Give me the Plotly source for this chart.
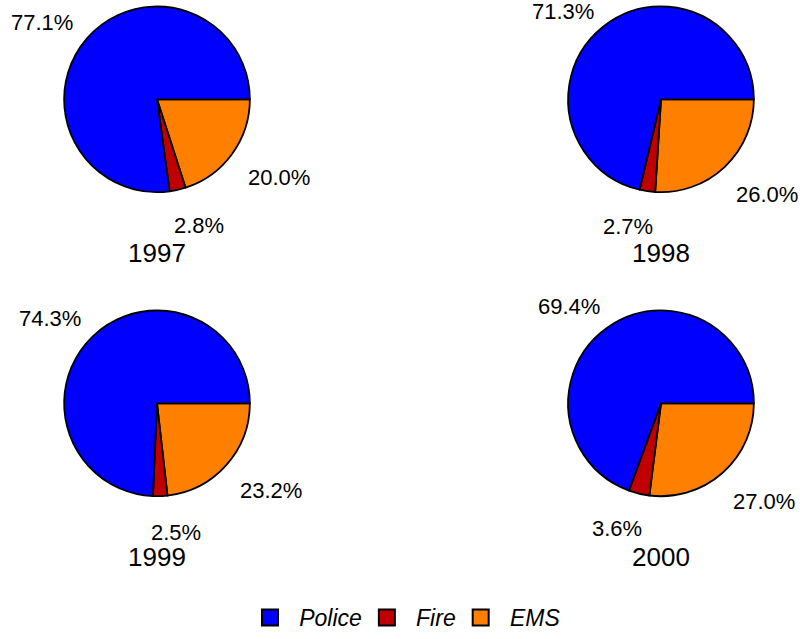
import math
import plotly.graph_objects as go

years = ["1997", "1998", "1999", "2000"]
categories = ["Police", "Fire", "EMS"]
police = [77.1, 71.3, 74.3, 69.4]
fire = [2.8, 2.7, 2.5, 3.6]
ems = [20.0, 26.0, 23.2, 27.0]
colors = ["#0000FF", "#C00000", "#FF8000"]

W, H = 802, 639
centers = [(157, 99.5), (661, 99.5), (157, 404), (661, 404)]
R = 93.0
KX, KY, SX, SY = 125.0, 124.0, 12.5, 5.0
FONT = "Liberation Sans, Arial, sans-serif"

fig = go.Figure()
annotations = []

for i, yr in enumerate(years):
    cx, cy = centers[i]
    vals = [police[i], fire[i], ems[i]]
    # drawn clockwise from 3 o'clock: EMS, Fire, Police
    fig.add_trace(go.Pie(
        labels=categories[::-1],
        values=vals[::-1],
        sort=False,
        direction="clockwise",
        rotation=90,
        marker=dict(colors=colors[::-1], line=dict(color="black", width=1.8)),
        textinfo="none",
        hoverinfo="label+percent",
        showlegend=False,
        domain=dict(x=[(cx - R) / W, (cx + R) / W],
                    y=[1 - (cy + R) / H, 1 - (cy - R) / H]),
    ))
    total = sum(vals)
    start = 0.0
    for v in vals:
        span = 360.0 * v / total
        mid = math.radians(start + span / 2)
        start += span
        c, s = math.cos(mid), math.sin(mid)
        sg = 1 if c > 0 else -1
        px = cx + KX * c - SX * sg
        py = cy - KY * s + SY
        py = max(py, 12)
        annotations.append(dict(
            x=px / W, y=1 - py / H, xref="paper", yref="paper",
            text=f"{v:.1f}%", showarrow=False,
            xanchor="left" if sg > 0 else "right", yanchor="middle",
            font=dict(family=FONT, size=22, color="black"),
        ))
    annotations.append(dict(
        x=cx / W, y=1 - (cy + 154) / H, xref="paper", yref="paper",
        text=yr, showarrow=False, xanchor="center", yanchor="middle",
        font=dict(family=FONT, size=26, color="black"),
    ))

for name, col in zip(categories, colors):
    fig.add_trace(go.Scatter(
        x=[None], y=[None], mode="markers", name="\u2009\u2009" + name,
        marker=dict(symbol="square", size=20, color=col,
                    line=dict(color="black", width=2)),
    ))

fig.update_layout(
    width=W, height=H,
    margin=dict(l=0, r=0, t=0, b=0),
    paper_bgcolor="white", plot_bgcolor="white",
    xaxis=dict(visible=False), yaxis=dict(visible=False),
    annotations=annotations,
    legend=dict(orientation="h", x=408 / W, xanchor="center", y=1 - 618 / H,
                yanchor="middle",
                font=dict(family=FONT, size=23, color="black", style="italic"),
                bgcolor="rgba(0,0,0,0)"),
)

fig.write_html("out.html", config={"displayModeBar": False},
               post_script="document.body.style.margin='0';document.body.style.overflow='hidden';")
